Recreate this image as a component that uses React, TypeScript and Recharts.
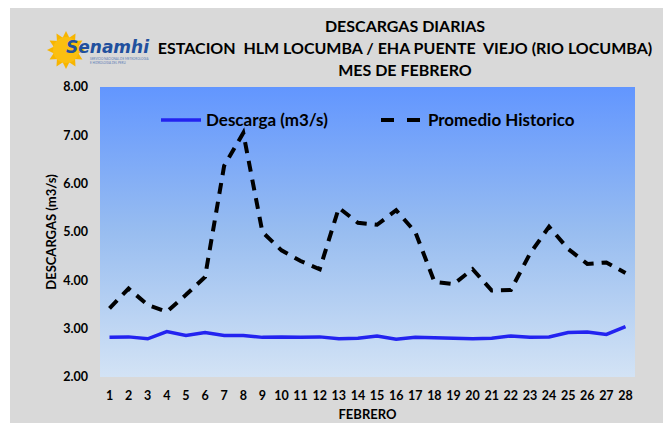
import { LineChart, Line, XAxis, YAxis, CartesianGrid, Legend } from "recharts";

// Febrero, caudal diario vs promedio historico
const days = ["1","2","3","4","5","6","7","8","9","10","11","12","13","14","15","16","17","18","19","20","21","22","23","24","25","26","27","28"];
const descarga = [2.82, 2.83, 2.79, 2.94, 2.86, 2.92, 2.86, 2.86, 2.82, 2.83, 2.82, 2.83, 2.79, 2.8, 2.85, 2.78, 2.82, 2.81, 2.8, 2.79, 2.8, 2.85, 2.82, 2.83, 2.92, 2.93, 2.88, 3.04];
const promedio = [3.42, 3.83, 3.49, 3.35, 3.7, 4.07, 6.37, 7.05, 5.0, 4.62, 4.4, 4.23, 5.5, 5.19, 5.15, 5.45, 5.0, 3.97, 3.92, 4.23, 3.79, 3.8, 4.55, 5.11, 4.65, 4.34, 4.37, 4.15];
const yTicks = [2, 3, 4, 5, 6, 7, 8];
const titleLines = ["DESCARGAS DIARIAS", "ESTACION  HLM LOCUMBA / EHA PUENTE  VIEJO (RIO LOCUMBA)", "MES DE FEBRERO"];

const data = days.map((d, i) => ({ d, descarga: descarga[i], promedio: promedio[i] }));

const FONT = "Lato, 'Open Sans', sans-serif";
const BLUE = "#2323f0";

function LegendBox() {
  return (
    <div style={{ display: "flex", alignItems: "center", fontFamily: FONT, fontWeight: 700, fontSize: 17, color: "#000" }}>
      <svg width={42} height={10}>
        <line x1={1} y1={5} x2={41} y2={5} stroke={BLUE} strokeWidth={3.5} />
      </svg>
      <span style={{ marginLeft: 4, whiteSpace: "pre" }}>Descarga (m3/s)</span>
      <svg width={42} height={10} style={{ marginLeft: 52 }}>
        <line x1={1} y1={5} x2={41} y2={5} stroke="#000" strokeWidth={4} strokeDasharray="13 13" />
      </svg>
      <span style={{ marginLeft: 6, whiteSpace: "pre" }}>Promedio Historico</span>
    </div>
  );
}

function Logo() {
  const rays = Array.from({ length: 12 }, (_, k) => k);
  return (
    <svg width={110} height={42} style={{ position: "absolute", left: 34, top: 22 }}>
      <g transform="translate(22,21)">
        {rays.map((k) => (
          <polygon
            key={k}
            points="-4,-11 0,-19 4,-11"
            fill="#f7b500"
            transform={`rotate(${k * 30})`}
          />
        ))}
        <circle r={13} fill="#fbbf10" />
      </g>
      <text x={22} y={24} fontFamily="'DejaVu Sans', sans-serif" fontStyle="italic" fontWeight={700} fontSize={17} fill="#21509e">
        Senamhi
      </text>
      <text x={46} y={31} fontFamily={FONT} fontSize={3} fill="#5a7bb5">SERVICIO NACIONAL DE METEOROLOGIA</text>
      <text x={46} y={35} fontFamily={FONT} fontSize={3} fill="#5a7bb5">E HIDROLOGIA DEL PERU</text>
    </svg>
  );
}

export default function App() {
  return (
    <div style={{ position: "relative", width: 661, height: 416, margin: "-1px 0 0 2px", background: "#d9d9d9", fontFamily: FONT }}>
      <Logo />
      <div style={{ position: "absolute", left: 145, top: 8, width: 500, textAlign: "center", fontWeight: 700, fontSize: 16, lineHeight: "22px", whiteSpace: "pre", color: "#000" }}>
        {titleLines.map((t) => (
          <div key={t}>{t}</div>
        ))}
      </div>
      <LineChart width={661} height={416} data={data} margin={{ top: 80, right: 36, bottom: 16, left: 30 }}>
        <defs>
          <linearGradient id="plotBg" x1="0" y1="0" x2="0" y2="1">
            <stop offset="0%" stopColor="#6296ff" />
            <stop offset="50%" stopColor="#98bdf0" />
            <stop offset="100%" stopColor="#d3e3f5" />
          </linearGradient>
        </defs>
        <CartesianGrid fill="url(#plotBg)" stroke="none" horizontal={false} vertical={false} />
        <XAxis
          dataKey="d"
          axisLine={false}
          tickLine={false}
          padding={{ left: 9.5, right: 9.5 }}
          interval={0}
          height={30}
          tick={{ fill: "#000", fontSize: 12.5, fontWeight: 700, fontFamily: FONT }}
          tickMargin={8}
          label={{ value: "FEBRERO", position: "insideBottom", offset: -12, fill: "#000", fontSize: 13, fontWeight: 700, fontFamily: FONT }}
        />
        <YAxis
          domain={[2, 8]}
          ticks={yTicks}
          axisLine={false}
          tickLine={false}
          width={60}
          tickMargin={6}
          tickFormatter={(v: number) => v.toFixed(2)}
          tick={{ fill: "#000", fontSize: 12.5, fontWeight: 700, fontFamily: FONT }}
          label={{ value: "DESCARGAS (m3/s)", angle: -90, position: "insideLeft", offset: 11, style: { textAnchor: "middle" }, fill: "#000", fontSize: 13, fontWeight: 700, fontFamily: FONT }}
        />
        <Legend
          verticalAlign="middle"
          content={() => <LegendBox />}
          wrapperStyle={{ top: 102, left: 150, width: "auto" }}
        />
        <Line type="linear" dataKey="descarga" stroke={BLUE} strokeWidth={3.5} dot={false} isAnimationActive={false} name="Descarga (m3/s)" />
        <Line type="linear" dataKey="promedio" stroke="#000" strokeWidth={4} strokeDasharray="11 8" dot={false} isAnimationActive={false} name="Promedio Historico" />
      </LineChart>
    </div>
  );
}
